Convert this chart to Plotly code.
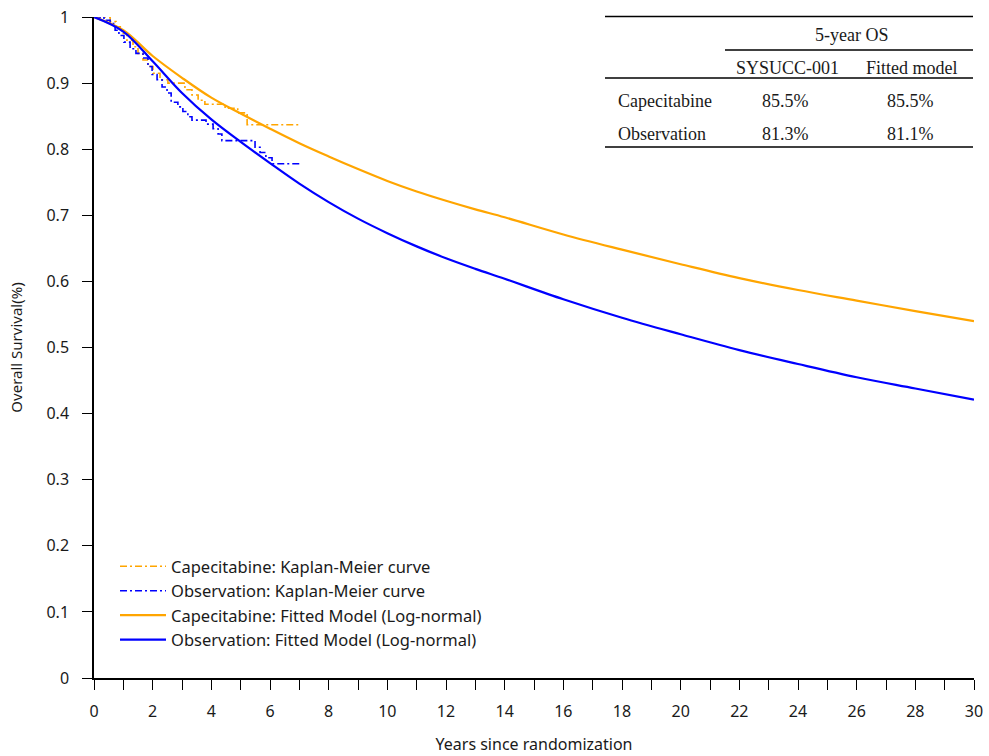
import plotly.graph_objects as go

# ---- data ----
cap_km_t = [0, 0.55, 0.75, 0.95, 1.12, 1.33, 1.50, 1.67, 1.84, 2.01, 2.25, 2.52, 3.10, 3.34, 3.55, 3.78, 4.47, 4.90, 5.22, 7.0]
cap_km_s = [1.0, 0.993, 0.985, 0.975, 0.965, 0.955, 0.945, 0.935, 0.925, 0.915, 0.905, 0.900, 0.890, 0.882, 0.874, 0.868, 0.862, 0.855, 0.837, 0.837]

obs_km_t = [0, 0.34, 0.55, 0.72, 0.85, 1.02, 1.23, 1.43, 1.67, 1.84, 1.98, 2.15, 2.32, 2.49, 2.63, 2.86, 3.03, 3.20, 3.34, 3.82, 4.06, 4.23, 4.36, 5.49, 5.66, 5.86, 6.07, 7.0]
obs_km_s = [1.0, 0.995, 0.990, 0.980, 0.972, 0.962, 0.952, 0.945, 0.938, 0.925, 0.913, 0.905, 0.894, 0.885, 0.871, 0.864, 0.857, 0.849, 0.844, 0.838, 0.831, 0.823, 0.813, 0.803, 0.795, 0.787, 0.778, 0.778]

fit_t = [0, 1, 2, 3, 4, 5, 6, 7, 8, 9, 10, 11, 12, 13, 14, 16, 18, 20, 22, 24, 26, 28, 30]
cap_fit_s = [1.0, 0.980, 0.941, 0.908, 0.878, 0.854, 0.831, 0.809, 0.789, 0.770, 0.752, 0.736, 0.722, 0.709,
             0.697, 0.671, 0.648, 0.626, 0.605, 0.587, 0.571, 0.555, 0.540]
obs_fit_s = [1.0, 0.978, 0.933, 0.885, 0.845, 0.811, 0.779, 0.748, 0.720, 0.695, 0.673, 0.653, 0.635, 0.619,
             0.604, 0.573, 0.545, 0.520, 0.496, 0.475, 0.455, 0.438, 0.421]

x_tick_vals = list(range(0, 31))
x_tick_text = [str(v) if v % 2 == 0 else "" for v in x_tick_vals]
y_tick_vals = [0, 0.1, 0.2, 0.3, 0.4, 0.5, 0.6, 0.7, 0.8, 0.9, 1]
y_tick_text = ["0", "0.1", "0.2", "0.3", "0.4", "0.5", "0.6", "0.7", "0.8", "0.9", "1"]

table_group = "5-year OS"
table_cols = ["SYSUCC-001", "Fitted model"]
table_rows = ["Capecitabine", "Observation"]
table_vals = [["85.5%", "85.5%"], ["81.3%", "81.1%"]]

ORANGE = "#FFA500"
BLUE = "#0000FF"

fig = go.Figure()
fig.add_trace(go.Scatter(x=cap_km_t, y=cap_km_s, mode="lines", line_shape="hv",
                         line=dict(color=ORANGE, width=1.6, dash="7px,3px,2px,3px"),
                         name="Capecitabine: Kaplan-Meier curve"))
fig.add_trace(go.Scatter(x=obs_km_t, y=obs_km_s, mode="lines", line_shape="hv",
                         line=dict(color=BLUE, width=1.6, dash="7px,3px,2px,3px"),
                         name="Observation: Kaplan-Meier curve"))
fig.add_trace(go.Scatter(x=fit_t, y=cap_fit_s, mode="lines", line_shape="spline",
                         line=dict(color=ORANGE, width=2.2, smoothing=1.0),
                         name="Capecitabine: Fitted Model (Log-normal)"))
fig.add_trace(go.Scatter(x=fit_t, y=obs_fit_s, mode="lines", line_shape="spline",
                         line=dict(color=BLUE, width=2.2, smoothing=1.0),
                         name="Observation: Fitted Model (Log-normal)"))

L, R, T, B = 94, 974, 17, 678
def px(x):
    return (x - L) / (R - L)
def py(y):
    return (B - y) / (B - T)

shapes = []
for (x0, x1, y) in [(605, 973, 16.5), (725, 973, 50), (605, 973, 78), (605, 973, 147)]:
    shapes.append(dict(type="line", xref="paper", yref="paper", x0=px(x0), x1=px(x1),
                       y0=py(y), y1=py(y), line=dict(color="black", width=1.3)))

serif = dict(family="Liberation Serif, Times New Roman, serif", size=18, color="#1a1a1a")
ann = []
ann.append(dict(xref="paper", yref="paper", x=px(851), y=py(35), text=table_group,
                showarrow=False, font=serif, xanchor="center", yanchor="middle"))
col_x = [787, 912]
for cx, c in zip(col_x, table_cols):
    ann.append(dict(xref="paper", yref="paper", x=px(cx), y=py(68), text=c,
                    showarrow=False, font=serif, xanchor="center", yanchor="middle"))
row_y = [101, 134]
for ry, rname, vals in zip(row_y, table_rows, table_vals):
    ann.append(dict(xref="paper", yref="paper", x=px(616), y=py(ry), text=rname,
                    showarrow=False, font=serif, xanchor="left", yanchor="middle"))
    for cx, v in zip(col_x, vals):
        ann.append(dict(xref="paper", yref="paper", x=px(cx - 2), y=py(ry), text=v,
                        showarrow=False, font=serif, xanchor="center", yanchor="middle"))

sans = "Noto Sans, Open Sans, sans-serif"
fig.update_layout(
    width=989, height=756,
    margin=dict(l=L, r=989 - R, t=T, b=756 - B, autoexpand=False),
    plot_bgcolor="white", paper_bgcolor="white",
    font=dict(family=sans, size=15, color="#1a1a1a"),
    showlegend=True,
    legend=dict(x=px(115), y=py(549), xanchor="left", yanchor="top",
                bgcolor="rgba(0,0,0,0)", font=dict(size=16.5, family=sans, color="#1a1a1a"),
                itemwidth=46, tracegroupgap=0),
    shapes=shapes, annotations=ann,
    xaxis=dict(range=[0, 30], tickvals=x_tick_vals, ticktext=x_tick_text,
               ticks="outside", ticklen=10, tickwidth=1.3, tickcolor="black",
               showline=True, linecolor="black", linewidth=1.5, showgrid=False, zeroline=False,
               automargin=False, ticklabelstandoff=8,
               title=dict(text="Years since randomization", standoff=18, font=dict(size=16)),
               tickfont=dict(size=16, color="#1a1a1a")),
    yaxis=dict(range=[0, 1], tickvals=y_tick_vals, ticktext=y_tick_text,
               ticks="outside", ticklen=10, tickwidth=1.3, tickcolor="black",
               showline=True, linecolor="black", linewidth=1.5, showgrid=False, zeroline=False,
               automargin=False, ticklabelstandoff=10,
               title=dict(text="Overall Survival(%)", standoff=20, font=dict(size=15)),
               tickfont=dict(size=16, color="#1a1a1a")),
)

fig.write_html("out.html", config={"displayModeBar": False},
               post_script="document.body.style.margin='0px';")
